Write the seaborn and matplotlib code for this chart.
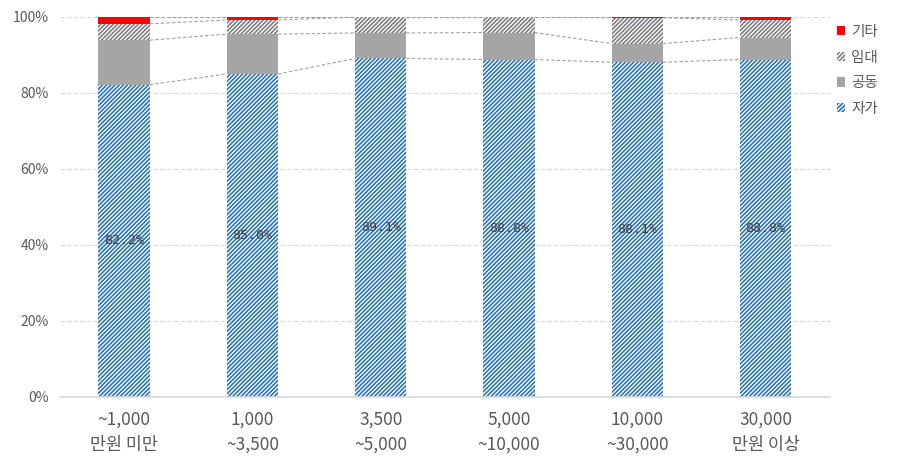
import numpy as np
import pandas as pd
import matplotlib
matplotlib.use("Agg")
import matplotlib.pyplot as plt
import matplotlib.patches as mpatches
import seaborn as sns

categories = ["~1,000\n만원 미만", "1,000\n~3,500", "3,500\n~5,000", "5,000\n~10,000", "10,000\n~30,000", "30,000\n만원 이상"]
own = [82.2, 85.0, 89.1, 88.8, 88.1, 88.8]      # 자가
joint = [11.7, 10.5, 6.7, 7.1, 4.9, 5.8]        # 공동
rent = [4.3, 3.7, 4.2, 4.1, 6.8, 4.6]           # 임대
other = [1.8, 0.8, 0.0, 0.0, 0.2, 0.8]          # 기타
series_names = ["자가", "공동", "임대", "기타"]
yticks = [0, 20, 40, 60, 80, 100]

sns.set_theme(style="white")
plt.rcParams['font.family'] = ['Noto Sans CJK KR', 'DejaVu Sans']
plt.rcParams['hatch.linewidth'] = 1.2

df = pd.DataFrame({"cat": categories, "자가": own, "공동": joint, "임대": rent, "기타": other})
c1 = df["자가"]
c2 = c1 + df["공동"]
c3 = c2 + df["임대"]
c4 = c3 + df["기타"]
df["c1"], df["c2"], df["c3"], df["c4"] = c1, c2, c3, c4

fig = plt.figure(figsize=(8.97, 4.72), dpi=100)
ax = fig.add_axes([0.0669, 0.159, 0.858, 0.805])

blue = "#2E75B6"
hgray = "#7F7F7F"
sgray = "#A5A5A5"
red = "#FF0000"
W = 0.4
H = "////////"

sns.barplot(data=df, x="cat", y="c4", ax=ax, color=red, width=W, linewidth=0, saturation=1)
sns.barplot(data=df, x="cat", y="c3", ax=ax, color="white", width=W, linewidth=0,
            saturation=1, hatch=H, edgecolor=hgray)
sns.barplot(data=df, x="cat", y="c2", ax=ax, color=sgray, width=W, linewidth=0, saturation=1)
sns.barplot(data=df, x="cat", y="c1", ax=ax, color="white", width=W, linewidth=0,
            saturation=1, hatch=H, edgecolor=blue)

# series lines
xs = np.arange(len(categories))
for col in ["c1", "c2", "c3", "c4"]:
    vals = df[col].values
    for i in range(len(xs) - 1):
        ax.plot([xs[i] + W / 2, xs[i + 1] - W / 2], [vals[i], vals[i + 1]],
                color="#A0A0A0", lw=0.8, ls=(0, (3, 2)), zorder=3)

# data labels
for i, v in enumerate(own):
    ax.text(xs[i], v / 2, f"{v:.1f}%", ha="center", va="center", fontsize=9.5,
            color="#404040", family=["DejaVu Sans Mono", "DejaVu Sans"], zorder=5)

ax.set_ylim(0, 100)
ax.set_xlim(-0.5, len(categories) - 0.5)
ax.set_yticks(yticks)
ax.set_yticklabels([f"{t}%" for t in yticks])
ax.yaxis.grid(True, color="#D9D9D9", ls=(0, (4, 2)), lw=0.8)
ax.set_axisbelow(True)
ax.set_xlabel("")
ax.set_ylabel("")
for s in ["top", "right", "left"]:
    ax.spines[s].set_visible(False)
ax.spines["bottom"].set_color("#D9D9D9")
ax.tick_params(axis="y", length=0, labelsize=10, labelcolor="#595959", pad=8)
ax.tick_params(axis="x", length=0, labelsize=12.5, labelcolor="#595959", pad=10)
for lab in ax.get_xticklabels():
    lab.set_linespacing(1.5)

handles = [
    mpatches.Patch(facecolor=red, edgecolor=red, lw=0, label="기타"),
    mpatches.Patch(facecolor="white", edgecolor=hgray, hatch=H, lw=0, label="임대"),
    mpatches.Patch(facecolor=sgray, edgecolor=sgray, lw=0, label="공동"),
    mpatches.Patch(facecolor="white", edgecolor=blue, hatch=H, lw=0, label="자가"),
]
leg = fig.legend(handles=handles, loc="upper left", bbox_to_anchor=(0.918, 0.975),
                 frameon=False, fontsize=10.5, handlelength=0.6, handleheight=0.6,
                 handletextpad=0.4, labelspacing=0.8, labelcolor="#595959")

fig.savefig("out.png", dpi=100)
